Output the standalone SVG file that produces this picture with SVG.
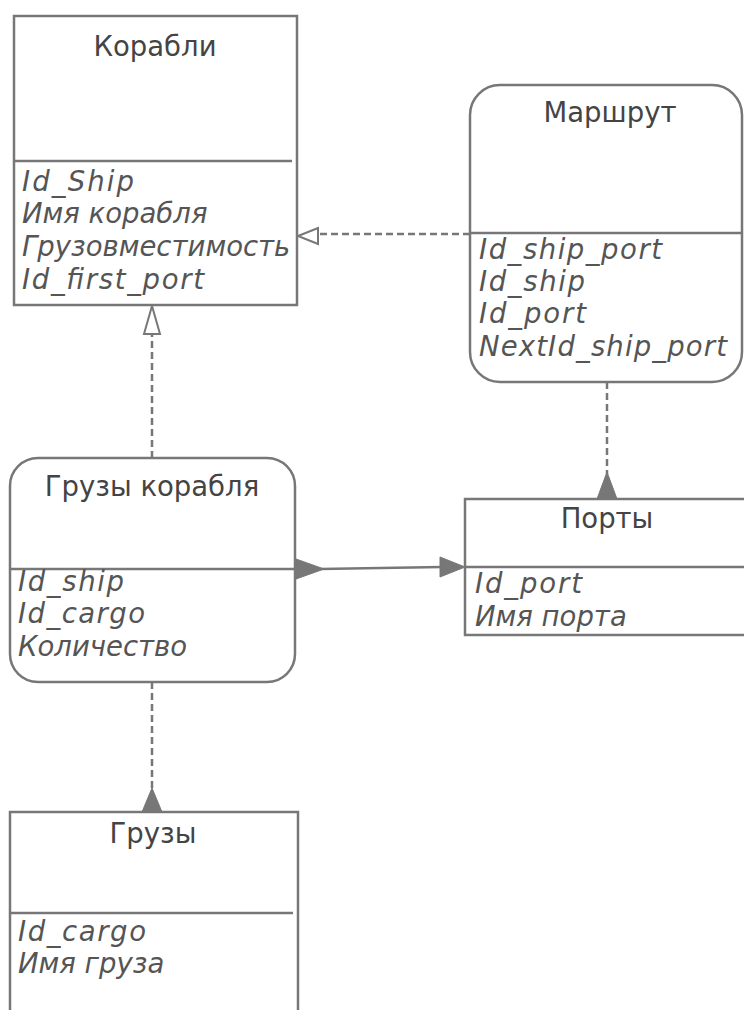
<svg xmlns="http://www.w3.org/2000/svg" width="744" height="1010" viewBox="0 0 744 1010">
<style>
.box{fill:#fff;stroke:#777;stroke-width:2.5}
.div{stroke:#777;stroke-width:2.5}
.title{font-family:"DejaVu Sans",Verdana,sans-serif;font-size:27.5px;fill:#444;text-anchor:middle}
.attr{font-family:"DejaVu Sans",Verdana,sans-serif;font-size:27.5px;font-style:italic;fill:#555}
.dash{fill:none;stroke:#777;stroke-width:2.5;stroke-dasharray:7,4}
.solid{fill:none;stroke:#777;stroke-width:2.5}
.hollow{fill:#fff;stroke:#777;stroke-width:2}
.filled{fill:#777;stroke:#777;stroke-width:1}
</style>
<rect width="744" height="1010" fill="#fff"/>
<g id="connectors">
<path class="dash" d="M470 234 H318"/>
<polygon class="hollow" points="298,236 318,228 318,244"/>
<path class="dash" d="M152 458 V334"/>
<polygon class="hollow" points="152,306 144,334 160,334"/>
<path class="solid" d="M320 569 L442 567"/>
<polygon class="filled" points="296,559 324,569 296,579"/>
<polygon class="filled" points="465,567 440,557 440,577"/>
<path class="dash" d="M607 382 V474"/>
<polygon class="filled" points="607,472 597,499 617,499"/>
<path class="dash" d="M152 682 V790"/>
<polygon class="filled" points="152,788 142,812 162,812"/>
</g>
<g id="ships">
<rect class="box" x="14" y="16" width="283" height="289"/>
<line class="div" x1="14" y1="161" x2="292" y2="161"/>
<text class="title" x="155" y="56">Корабли</text>
<text class="attr" x="22" y="191" textLength="112" lengthAdjust="spacing">Id_Ship</text>
<text class="attr" x="22" y="223">Имя корабля</text>
<text class="attr" x="22" y="256">Грузовместимость</text>
<text class="attr" x="22" y="289" textLength="182" lengthAdjust="spacing">Id_first_port</text>
</g>
<g id="route">
<rect class="box" x="470" y="85" width="272" height="297" rx="30" ry="30"/>
<line class="div" x1="470" y1="233" x2="742" y2="233"/>
<text class="title" x="610" y="122">Маршрут</text>
<text class="attr" x="479" y="259" textLength="183" lengthAdjust="spacing">Id_ship_port</text>
<text class="attr" x="479" y="291" textLength="106" lengthAdjust="spacing">Id_ship</text>
<text class="attr" x="479" y="323" textLength="107" lengthAdjust="spacing">Id_port</text>
<text class="attr" x="479" y="356" textLength="248" lengthAdjust="spacing">NextId_ship_port</text>
</g>
<g id="ship-cargo">
<rect class="box" x="10" y="458" width="285" height="224" rx="28" ry="28"/>
<line class="div" x1="10" y1="569" x2="295" y2="569"/>
<text class="title" x="152" y="496">Грузы корабля</text>
<text class="attr" x="18" y="591" textLength="106" lengthAdjust="spacing">Id_ship</text>
<text class="attr" x="18" y="623" textLength="127" lengthAdjust="spacing">Id_cargo</text>
<text class="attr" x="18" y="656">Количество</text>
</g>
<g id="ports">
<rect class="box" x="465" y="499" width="290" height="136"/>
<line class="div" x1="465" y1="567" x2="744" y2="567"/>
<text class="title" x="607" y="528">Порты</text>
<text class="attr" x="475" y="593" textLength="107" lengthAdjust="spacing">Id_port</text>
<text class="attr" x="475" y="626">Имя порта</text>
</g>
<g id="cargo">
<rect class="box" x="10" y="812" width="288" height="220"/>
<line class="div" x1="10" y1="913" x2="293" y2="913"/>
<text class="title" x="153" y="843">Грузы</text>
<text class="attr" x="18" y="941" textLength="128" lengthAdjust="spacing">Id_cargo</text>
<text class="attr" x="18" y="973">Имя груза</text>
</g>
</svg>
